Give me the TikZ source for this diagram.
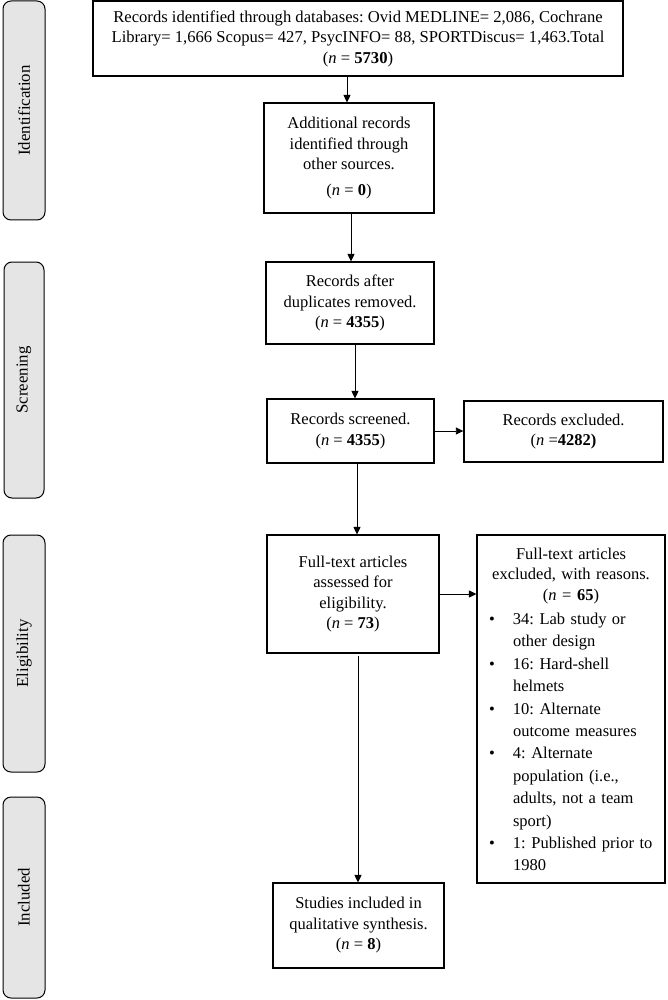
\documentclass[tikz,border=0pt]{standalone}
\usepackage{fontspec}
\setmainfont{Liberation Serif}
\usetikzlibrary{arrows.meta}
\frenchspacing
\newcommand\rbul{\hspace{4pt}\textbullet}
\begin{document}
\begin{tikzpicture}[x=1pt,y=-1pt,
  box/.style={draw, line width=1.1pt, align=center, inner sep=0pt, font=\frenchspacing\fontsize{16.5}{20.5}\selectfont},
  side/.style={draw, line width=1pt, fill=black!10, rounded corners=8pt, inner sep=0pt, rotate=90, font=\fontsize{16.8}{20}\selectfont},
  arr/.style={line width=0.9pt, -{Triangle[length=7.5pt,width=7pt]}}]
\useasboundingbox (0,0) rectangle (668,1000);

% phase labels
\node[side, minimum width=219, minimum height=42] (sid) at (24,110.5) {Identification};
\node[side, minimum width=236, minimum height=40] (ssc) at (24,380) {Screening};
\node[side, minimum width=237, minimum height=42] (sel) at (24,653.5) {Eligibility};
\node[side, minimum width=201, minimum height=42] (sin) at (24,897.5) {Included};

% boxes
\node[box, font=\frenchspacing\fontsize{16.6}{20.5}\selectfont, minimum width=530, minimum height=75] (top) at (358,38.5)
  {Records identified through databases: Ovid MEDLINE= 2,086, Cochrane\\
   Library= 1,666 Scopus= 427, PsycINFO= 88, SPORTDiscus= 1,463.Total\\
   (\textit{n} = \textbf{5730})};
\node[box, minimum width=170, minimum height=110] (add) at (349,158)
  {Additional records\\identified through\\other sources.\\[5pt](\textit{n} = \textbf{0})};
\node[box, minimum width=168, minimum height=82] (rad) at (350,303)
  {Records after\\duplicates removed.\\(\textit{n} = \textbf{4355})};
\node[box, minimum width=167, minimum height=64] (scr) at (350.5,431)
  {Records screened.\\(\textit{n} = \textbf{4355})};
\node[box, line width=1.4pt, minimum width=199, minimum height=61] (exc) at (563.5,431.5)
  {Records excluded.\\(\textit{n} =\textbf{4282)}};
\node[box, minimum width=172, minimum height=118] (fta) at (353,594)
  {Full-text articles\\assessed for\\eligibility.\\(\textit{n} = \textbf{73})};
\node[box, align=left, text width=172pt, inner xsep=8pt, minimum height=348] (ftx) at (571,709)
  {{\centering\rule{0pt}{19pt}Full-text articles\\excluded, with reasons.\\(\textit{n} = \textbf{65})\par}
   \fontsize{16.5}{22.4}\selectfont\vspace{1.6pt}
   \noindent\begin{tabular}[t]{@{}p{28pt}@{}l@{}}
   \rbul & 34: Lab study or\\
         & other design\\
   \rbul & 16: Hard-shell\\
         & helmets\\
   \rbul & 10: Alternate\\
         & outcome measures\\
   \rbul & 4: Alternate\\
         & population (i.e.,\\
         & adults, not a team\\
         & sport)\\
   \rbul & 1: Published prior to\\
         & 1980
   \end{tabular}\par};
\node[box, minimum width=171, minimum height=85] (stu) at (358.5,925.5)
  {Studies included in\\qualitative synthesis.\\(\textit{n} = \textbf{8})};

% connector columns
\coordinate (a1) at (347,0);
\coordinate (a2) at (351,0);
\coordinate (a3) at (355,0);
\coordinate (a4) at (357,0);
\coordinate (a5) at (358,0);

\draw[arr] (top.south -| a1) -- (add.north -| a1);
\draw[arr] (add.south -| a2) -- (rad.north -| a2);
\draw[arr] (rad.south -| a3) -- (scr.north -| a3);
\draw[arr] (scr.south -| a4) -- (fta.north -| a4);
\draw[arr] ([yshift=-2pt]fta.south -| a5) -- (stu.north -| a5);
\draw[arr] (scr.east) -- (scr.east -| exc.west);
\draw[arr] (fta.east) -- (fta.east -| ftx.west);
\end{tikzpicture}
\end{document}
